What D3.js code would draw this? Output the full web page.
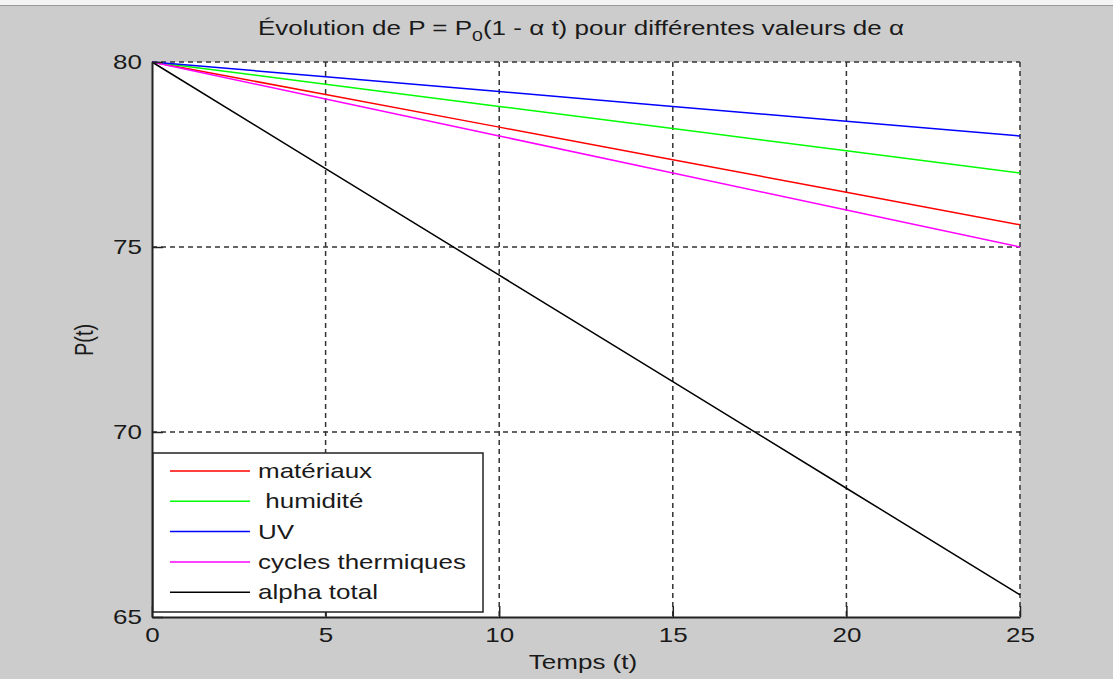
<!DOCTYPE html>
<html>
<head>
<meta charset="utf-8">
<style>
    body { margin: 0; background: #cccccc; }
    text { font-family: "Liberation Sans", Arial, sans-serif; fill: #1a1a1a; }
    .grid line { stroke: #333; stroke-dasharray: 5,4; stroke-width: 1.5; }
</style>
</head>
<body>
<script src="https://cdn.jsdelivr.net/npm/d3@7"></script>
<script>
    // time points (t) and read values of P(t) for each alpha
    var temps = [0, 5, 10, 15, 20, 25];
    var materiaux = [80, 79.12, 78.24, 77.36, 76.48, 75.6];
    var humidite = [80, 79.4, 78.8, 78.2, 77.6, 77.0];
    var uv = [80, 79.6, 79.2, 78.8, 78.4, 78.0];
    var cycles = [80, 79, 78, 77, 76, 75];
    var alphaTotal = [80, 77.12, 74.24, 71.36, 68.48, 65.6];

    var xTicks = [0, 5, 10, 15, 20, 25];
    var yTicks = [65, 70, 75, 80];

    var series = [
        {name: "matériaux", values: materiaux, color: "#ff0000"},
        {name: "\u00a0humidité", values: humidite, color: "#00ff00"},
        {name: "UV", values: uv, color: "#0000ff"},
        {name: "cycles thermiques", values: cycles, color: "#ff00ff"},
        {name: "alpha total", values: alphaTotal, color: "#000000"}
    ];

    var W = 1113, H = 679;
    var sx = 1.3; // the original screenshot is stretched horizontally
    var fs = "20px";
    var margin = {top: 62, right: 93, bottom: 62, left: 152};
    var width = W - margin.left - margin.right,
        height = H - margin.top - margin.bottom;

    var svg = d3.select("body").append("svg")
        .attr("width", W)
        .attr("height", H);

    // figure background and thin top strip
    svg.append("rect").attr("width", W).attr("height", H).attr("fill", "#cccccc");
    svg.append("rect").attr("width", W).attr("height", 5).attr("fill", "#f4f4f4");
    svg.append("line").attr("x1", 0).attr("x2", W).attr("y1", 5.5).attr("y2", 5.5)
        .attr("stroke", "#999").attr("stroke-width", 1);

    var g = svg.append("g")
        .attr("transform", "translate(" + margin.left + "," + margin.top + ")");

    var x = d3.scaleLinear().domain([0, 25]).range([0, width]);
    var y = d3.scaleLinear().domain([65, 80]).range([height, 0]);

    g.append("rect").attr("width", width).attr("height", height).attr("fill", "#fff");

    // dashed grid
    var grid = g.append("g").attr("class", "grid");
    grid.selectAll(".vx").data(xTicks.filter(function(d) { return d > 0; }))
        .enter().append("line")
        .attr("x1", function(d) { return x(d); }).attr("x2", function(d) { return x(d); })
        .attr("y1", 0).attr("y2", height);
    grid.selectAll(".hy").data(yTicks.filter(function(d) { return d > 65; }))
        .enter().append("line")
        .attr("x1", 0).attr("x2", width)
        .attr("y1", function(d) { return y(d); }).attr("y2", function(d) { return y(d); });

    // curves
    var line = d3.line()
        .x(function(d, i) { return x(temps[i]); })
        .y(function(d) { return y(d); });

    g.selectAll(".serie").data(series).enter().append("path")
        .attr("fill", "none")
        .attr("stroke", function(d) { return d.color; })
        .attr("stroke-width", 1.5)
        .attr("d", function(d) { return line(d.values); });

    // axes (ticks pointing inward, MATLAB style)
    var xAxis = g.append("g")
        .attr("transform", "translate(0," + height + ")")
        .call(d3.axisBottom(x).tickValues(xTicks).tickSizeInner(-11).tickSizeOuter(0).tickPadding(11));
    var yAxis = g.append("g")
        .call(d3.axisLeft(y).tickValues(yTicks).tickSizeInner(-11).tickSizeOuter(0).tickPadding(10));

    [xAxis, yAxis].forEach(function(a) {
        a.select(".domain").attr("stroke", "#222").attr("stroke-width", 2);
        a.selectAll(".tick line").attr("stroke", "#222").attr("stroke-width", 1.5);
        a.selectAll(".tick text").style("font-size", fs).attr("fill", "#1a1a1a")
            .style("font-family", "'Liberation Sans', Arial, sans-serif");
    });
    xAxis.selectAll(".tick text").attr("transform", "scale(" + sx + ",1)");
    yAxis.selectAll(".tick text")
        .attr("x", -10 / sx)
        .attr("transform", "scale(" + sx + ",1)");

    // legend
    var leg = g.append("g").attr("transform", "translate(1,391)");
    leg.append("rect").attr("width", 330).attr("height", 159)
        .attr("fill", "#fff").attr("stroke", "#222").attr("stroke-width", 1.5);
    var items = leg.selectAll(".item").data(series).enter().append("g")
        .attr("transform", function(d, i) { return "translate(0," + (18 + i * 30.3) + ")"; });
    items.append("line").attr("x1", 17).attr("x2", 97).attr("y1", 0).attr("y2", 0)
        .attr("stroke", function(d) { return d.color; }).attr("stroke-width", 1.5);
    items.append("text")
        .attr("transform", "translate(105,0) scale(" + sx + ",1)")
        .attr("dy", "0.35em")
        .style("font-size", fs).text(function(d) { return d.name; });

    // title with subscript and alpha
    var title = svg.append("text")
        .attr("transform", "translate(581,35) scale(" + sx + ",1)")
        .attr("text-anchor", "middle").style("font-size", fs);
    title.append("tspan").text("Évolution de P = P");
    title.append("tspan").attr("dy", 6).style("font-size", "15px").text("0");
    title.append("tspan").attr("dy", -6).text("(1 - α t) pour différentes valeurs de α");

    // axis labels
    svg.append("text")
        .attr("transform", "translate(583,669) scale(" + sx + ",1)")
        .attr("text-anchor", "middle").style("font-size", fs)
        .text("Temps (t)");
    svg.append("text")
        .attr("transform", "translate(93,340) scale(" + sx + ",1) rotate(-90)")
        .attr("text-anchor", "middle").style("font-size", fs)
        .text("P(t)");
</script>
</body>
</html>
